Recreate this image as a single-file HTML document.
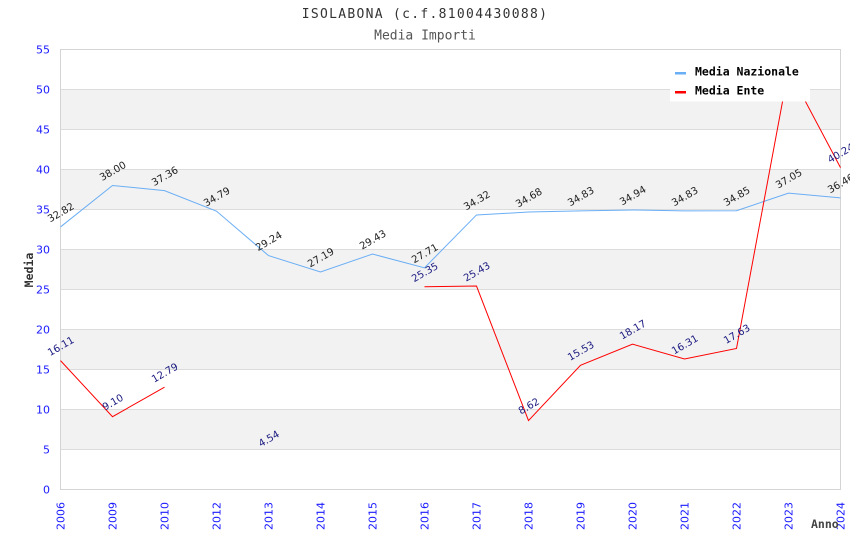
<!DOCTYPE html>
<html><head><meta charset="utf-8">
<style>
html,body{margin:0;padding:0;background:#fff;}
svg{display:block;}
.yl{font-family:"DejaVu Sans","Liberation Sans",sans-serif;font-size:11px;fill:#1a1aff;}
.xl{font-family:"DejaVu Sans","Liberation Sans",sans-serif;font-size:11px;fill:#1a1aff;}
.dn{font-family:"DejaVu Sans","Liberation Sans",sans-serif;font-size:10px;fill:#222;}
.de{font-family:"DejaVu Sans","Liberation Sans",sans-serif;font-size:10px;fill:#1a1a80;}
.mono{font-family:"DejaVu Sans Mono","Liberation Mono",monospace;}
</style></head>
<body>
<svg width="850" height="550" viewBox="0 0 850 550" xmlns="http://www.w3.org/2000/svg">
<defs>
<clipPath id="frag"><rect x="792" y="54" width="7" height="6"/></clipPath>
</defs>
<rect x="0" y="0" width="850" height="550" fill="#fff"/>
<!-- title -->
<text x="425" y="18" text-anchor="middle" class="mono" font-size="13" letter-spacing="1.3" fill="#333">ISOLABONA (c.f.81004430088)</text>
<text x="425" y="39.5" text-anchor="middle" class="mono" font-size="13" fill="#555">Media Importi</text>

<!-- bands -->
<g fill="#f2f2f2">
<rect x="60.5" y="89.5" width="780" height="40"/>
<rect x="60.5" y="169.5" width="780" height="40"/>
<rect x="60.5" y="249.5" width="780" height="40"/>
<rect x="60.5" y="329.5" width="780" height="40"/>
<rect x="60.5" y="409.5" width="780" height="40"/>
</g>
<!-- gridlines -->
<g stroke="#dcdcdc" stroke-width="1">
<line x1="60.5" x2="840.5" y1="89.5" y2="89.5"/>
<line x1="60.5" x2="840.5" y1="129.5" y2="129.5"/>
<line x1="60.5" x2="840.5" y1="169.5" y2="169.5"/>
<line x1="60.5" x2="840.5" y1="209.5" y2="209.5"/>
<line x1="60.5" x2="840.5" y1="249.5" y2="249.5"/>
<line x1="60.5" x2="840.5" y1="289.5" y2="289.5"/>
<line x1="60.5" x2="840.5" y1="329.5" y2="329.5"/>
<line x1="60.5" x2="840.5" y1="369.5" y2="369.5"/>
<line x1="60.5" x2="840.5" y1="409.5" y2="409.5"/>
<line x1="60.5" x2="840.5" y1="449.5" y2="449.5"/>
</g>
<rect x="60.5" y="49.5" width="780" height="440" fill="none" stroke="#d4d4d4" stroke-width="1"/>

<!-- y labels -->
<g class="yl" text-anchor="end">
<text x="50" y="53.5">55</text>
<text x="50" y="93.5">50</text>
<text x="50" y="133.5">45</text>
<text x="50" y="173.5">40</text>
<text x="50" y="213.5">35</text>
<text x="50" y="253.5">30</text>
<text x="50" y="293.5">25</text>
<text x="50" y="333.5">20</text>
<text x="50" y="373.5">15</text>
<text x="50" y="413.5">10</text>
<text x="50" y="453.5">5</text>
<text x="50" y="493.5">0</text>
</g>

<!-- x labels -->
<g class="xl" text-anchor="end">
<text transform="translate(64.5,502) rotate(-90)">2006</text>
<text transform="translate(116.5,502) rotate(-90)">2009</text>
<text transform="translate(168.5,502) rotate(-90)">2010</text>
<text transform="translate(220.5,502) rotate(-90)">2012</text>
<text transform="translate(272.5,502) rotate(-90)">2013</text>
<text transform="translate(324.5,502) rotate(-90)">2014</text>
<text transform="translate(376.5,502) rotate(-90)">2015</text>
<text transform="translate(428.5,502) rotate(-90)">2016</text>
<text transform="translate(480.5,502) rotate(-90)">2017</text>
<text transform="translate(532.5,502) rotate(-90)">2018</text>
<text transform="translate(584.5,502) rotate(-90)">2019</text>
<text transform="translate(636.5,502) rotate(-90)">2020</text>
<text transform="translate(688.5,502) rotate(-90)">2021</text>
<text transform="translate(740.5,502) rotate(-90)">2022</text>
<text transform="translate(792.5,502) rotate(-90)">2023</text>
<text transform="translate(844.5,502) rotate(-90)">2024</text>
</g>

<!-- axis titles -->
<text transform="translate(33,270) rotate(-90)" text-anchor="middle" class="mono" font-size="11.5" font-weight="bold" fill="#333">Media</text>
<text x="811" y="528" class="mono" font-size="11.5" font-weight="bold" fill="#444">Anno</text>

<!-- series lines -->
<polyline fill="none" stroke="#6aaef5" stroke-width="1" points="60.5,226.94 112.5,185.5 164.5,190.62 216.5,211.18 268.5,255.58 320.5,272.02 372.5,254.06 424.5,267.82 476.5,214.94 528.5,212.06 580.5,210.86 632.5,209.98 684.5,210.86 736.5,210.7 788.5,193.1 840.5,197.82"/>
<polyline fill="none" stroke="#ff0000" stroke-width="1" points="60.5,360.62 112.5,416.7 164.5,387.18"/>
<polyline fill="none" stroke="#ff0000" stroke-width="1" points="424.5,286.7 476.5,286.06 528.5,420.54 580.5,365.26 632.5,344.14 684.5,359.02 736.5,348.46 788.5,69.5 840.5,167.58"/>

<!-- nazionale labels -->
<g class="dn" text-anchor="middle">
<text transform="translate(62.5,215.4) rotate(-30)">32.82</text>
<text transform="translate(114.5,174) rotate(-30)">38.00</text>
<text transform="translate(166.5,179.1) rotate(-30)">37.36</text>
<text transform="translate(218.5,199.7) rotate(-30)">34.79</text>
<text transform="translate(270.5,244.1) rotate(-30)">29.24</text>
<text transform="translate(322.5,260.5) rotate(-30)">27.19</text>
<text transform="translate(374.5,242.6) rotate(-30)">29.43</text>
<text transform="translate(426.5,256.3) rotate(-30)">27.71</text>
<text transform="translate(478.5,203.4) rotate(-30)">34.32</text>
<text transform="translate(530.5,200.6) rotate(-30)">34.68</text>
<text transform="translate(582.5,199.4) rotate(-30)">34.83</text>
<text transform="translate(634.5,198.5) rotate(-30)">34.94</text>
<text transform="translate(686.5,199.4) rotate(-30)">34.83</text>
<text transform="translate(738.5,199.2) rotate(-30)">34.85</text>
<text transform="translate(790.5,181.6) rotate(-30)">37.05</text>
<text transform="translate(842.5,186.3) rotate(-30)">36.46</text>
</g>
<!-- ente labels -->
<g class="de" text-anchor="middle">
<text transform="translate(62.5,349.1) rotate(-30)">16.11</text>
<text transform="translate(114.5,405.2) rotate(-30)">9.10</text>
<text transform="translate(166.5,375.7) rotate(-30)">12.79</text>
<text transform="translate(270.5,441.7) rotate(-30)">4.54</text>
<text transform="translate(426.5,275.2) rotate(-30)">25.35</text>
<text transform="translate(478.5,274.6) rotate(-30)">25.43</text>
<text transform="translate(530.5,409) rotate(-30)">8.62</text>
<text transform="translate(582.5,353.8) rotate(-30)">15.53</text>
<text transform="translate(634.5,332.6) rotate(-30)">18.17</text>
<text transform="translate(686.5,347.5) rotate(-30)">16.31</text>
<text transform="translate(738.5,337) rotate(-30)">17.63</text>
<text transform="translate(842.5,156.1) rotate(-30)">40.24</text>
<text clip-path="url(#frag)" transform="translate(790.5,58) rotate(-30)">52.50</text>
</g>

<!-- legend -->
<rect x="670" y="59.5" width="140" height="42" fill="#fff"/>
<rect x="675" y="72" width="11" height="2.5" fill="#6aaef5"/>
<rect x="675" y="91" width="11" height="2.5" fill="#ff0000"/>
<text x="695" y="75.5" class="mono" font-size="11.5" font-weight="bold" fill="#000">Media Nazionale</text>
<text x="695" y="94.5" class="mono" font-size="11.5" font-weight="bold" fill="#000">Media Ente</text>
</svg>
</body></html>
